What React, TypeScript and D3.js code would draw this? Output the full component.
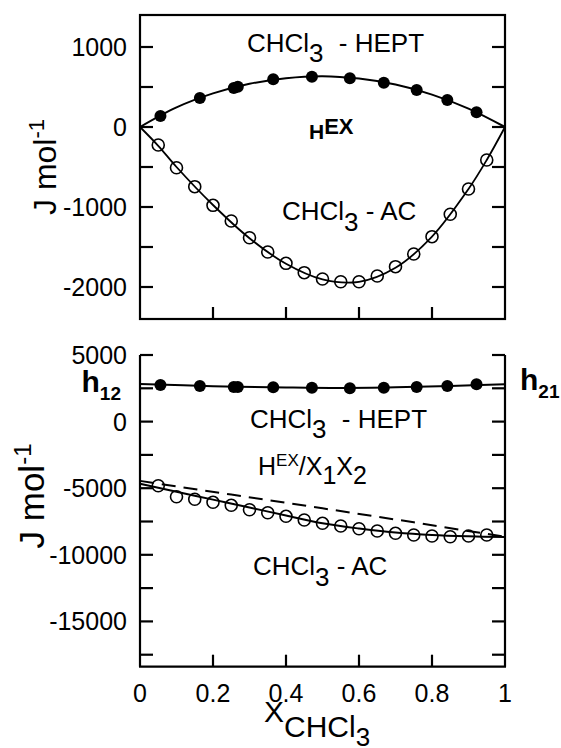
import React from "react";
import * as d3 from "d3";

// Excess enthalpy H^EX (J/mol) vs. chloroform mole fraction
const heptX = [0.056, 0.164, 0.257, 0.268, 0.365, 0.471, 0.575, 0.668, 0.758, 0.842, 0.922];
const heptHex = [138, 362, 487, 504, 596, 629, 609, 554, 462, 337, 184];
const acX = [0.05, 0.1, 0.15, 0.2, 0.25, 0.3, 0.35, 0.4, 0.45, 0.5, 0.55, 0.6, 0.65, 0.7, 0.75, 0.8, 0.85, 0.9, 0.95];
const acHex = [-225, -509, -746, -979, -1175, -1384, -1562, -1704, -1821, -1900, -1934, -1934, -1862, -1746, -1587, -1371, -1091, -775, -412];

// fitted H^EX curves
const heptFitX = [0, 0.1, 0.2, 0.3, 0.4, 0.5, 0.6, 0.7, 0.8, 0.9, 1];
const heptFitHex = [0, 245, 420, 540, 610, 635, 605, 530, 405, 230, 0];
const acFitX = [0, 0.05, 0.1, 0.2, 0.3, 0.4, 0.5, 0.6, 0.7, 0.8, 0.9, 0.95, 1];
const acFitHex = [0, -235, -500, -975, -1390, -1710, -1905, -1935, -1760, -1370, -775, -412, 0];

// reduced excess enthalpy H^EX/(x1 x2) (J/mol)
const heptRed = [2748, 2673, 2598, 2598, 2575, 2545, 2500, 2545, 2598, 2673, 2800];
const acRed = [-4812, -5638, -5833, -6059, -6284, -6614, -6839, -7110, -7387, -7635, -7838, -8041, -8213, -8386, -8514, -8589, -8641, -8589, -8514];
const heptRedFitX = [0, 0.2, 0.4, 0.55, 0.7, 0.85, 1];
const heptRedFit = [2823, 2660, 2560, 2520, 2570, 2670, 2810];
const acRedFitX = [0, 0.1, 0.2, 0.3, 0.4, 0.5, 0.6, 0.7, 0.8, 0.9, 1];
const acRedFit = [-4670, -5263, -5856, -6449, -7050, -7635, -8026, -8326, -8514, -8611, -8664];
const acRedDashX = [0, 0.25, 0.5, 0.75, 1];
const acRedDash = [-4450, -5480, -6510, -7560, -8650];

const xTicks = [0.2, 0.4, 0.6, 0.8];
const xTickLabels = [0, 0.2, 0.4, 0.6, 0.8, 1];
const topMinorTicks = [-2000, -1500, -1000, -500, 0, 500, 1000];
const topTickLabels = [-2000, -1000, 0, 1000];
const botMinorTicks = [-17500, -15000, -12500, -10000, -7500, -5000, -2500, 0, 2500, 5000];
const botTickLabels = [-15000, -10000, -5000, 0, 5000];

const FONT = "'Liberation Sans', Arial, Helvetica, sans-serif";

const X0 = 140;
const X1 = 505;
const x = d3.scaleLinear().domain([0, 1]).range([X0, X1]);
const yTop = d3.scaleLinear().domain([-2400, 1400]).range([319, 15]);
const yBot = d3.scaleLinear().domain([-18400, 5000]).range([666.7, 355]);

const zip = (xs: number[], ys: number[]) => xs.map((v, i) => [v, ys[i]] as [number, number]);

function lineFor(y: d3.ScaleLinear<number, number>) {
  return d3
    .line<[number, number]>()
    .x((d) => x(d[0]))
    .y((d) => y(d[1]))
    .curve(d3.curveCatmullRom.alpha(0.5));
}

const TICK = 13;
const SW = 2.2;

function YTicks({ y, ticks, labels }: { y: d3.ScaleLinear<number, number>; ticks: number[]; labels: number[] }) {
  return (
    <g>
      {ticks.map((t) => (
        <g key={t}>
          <line x1={X0} x2={X0 + TICK} y1={y(t)} y2={y(t)} stroke="#000" strokeWidth={SW} />
          <line x1={X1} x2={X1 - TICK} y1={y(t)} y2={y(t)} stroke="#000" strokeWidth={SW} />
        </g>
      ))}
      {labels.map((t) => (
        <text key={"l" + t} x={127} y={y(t)} dy="0.36em" textAnchor="end" fontSize={25}>
          {t}
        </text>
      ))}
    </g>
  );
}

function XTicks({ yb }: { yb: number }) {
  return (
    <g>
      {xTicks.map((t) => (
        <line key={t} x1={x(t)} x2={x(t)} y1={yb} y2={yb - 12} stroke="#000" strokeWidth={SW} />
      ))}
    </g>
  );
}

export default function App() {
  const topLine = lineFor(yTop);
  const botLine = lineFor(yBot);
  const botLinear = d3
    .line<[number, number]>()
    .x((d) => x(d[0]))
    .y((d) => yBot(d[1]));

  return (
    <svg width={561} height={748} style={{ position: "absolute", left: 0, top: 0 }} fontFamily={FONT}>
      <rect width={561} height={748} fill="#fff" />

      {/* upper panel: H^EX */}
      <rect x={X0} y={15} width={X1 - X0} height={319 - 15} fill="none" stroke="#000" strokeWidth={SW} />
      <YTicks y={yTop} ticks={topMinorTicks} labels={topTickLabels} />
      <XTicks yb={319} />
      <path d={topLine(zip(heptFitX, heptFitHex)) ?? ""} fill="none" stroke="#000" strokeWidth={2} />
      <path d={topLine(zip(acFitX, acFitHex)) ?? ""} fill="none" stroke="#000" strokeWidth={1.8} />
      {zip(heptX, heptHex).map((d, i) => (
        <circle key={"th" + i} cx={x(d[0])} cy={yTop(d[1])} r={6} fill="#000" />
      ))}
      {zip(acX, acHex).map((d, i) => (
        <circle key={"ta" + i} cx={x(d[0])} cy={yTop(d[1])} r={6} fill="none" stroke="#000" strokeWidth={1.6} />
      ))}
      <text x={247} y={52} fontSize={26}>
        CHCl<tspan dy={10}>3</tspan>
        <tspan dy={-10} dx={8}> - HEPT</tspan>
      </text>
      <text x={309} y={138.5} fontSize={21} fontWeight="bold">
        H<tspan dy={-5} fontSize={22}>EX</tspan>
      </text>
      <text x={282} y={220} fontSize={26}>
        CHCl<tspan dy={11}>3</tspan>
        <tspan dy={-11}> - AC</tspan>
      </text>
      <text transform="translate(56,167) rotate(-90)" textAnchor="middle" fontSize={32}>
        J mol<tspan dy={-12} fontSize={22}>-1</tspan>
      </text>

      {/* lower panel: H^EX / x1x2 */}
      <line x1={X0} x2={X0} y1={355} y2={666.7} stroke="#000" strokeWidth={SW} />
      <line x1={X1} x2={X1} y1={355} y2={666.7} stroke="#000" strokeWidth={SW} />
      <line x1={X0 - 1} x2={X1 + 1} y1={666.7} y2={666.7} stroke="#000" strokeWidth={SW} />
      <YTicks y={yBot} ticks={botMinorTicks} labels={botTickLabels} />
      <XTicks yb={666.7} />
      <path d={botLine(zip(heptRedFitX, heptRedFit)) ?? ""} fill="none" stroke="#000" strokeWidth={2} />
      <path d={botLine(zip(acRedFitX, acRedFit)) ?? ""} fill="none" stroke="#000" strokeWidth={2} />
      <path d={botLinear(zip(acRedDashX, acRedDash)) ?? ""} fill="none" stroke="#000" strokeWidth={2} strokeDasharray="14 8" />
      {zip(heptX, heptRed).map((d, i) => (
        <circle key={"bh" + i} cx={x(d[0])} cy={yBot(d[1])} r={6} fill="#000" />
      ))}
      {zip(acX, acRed).map((d, i) => (
        <circle key={"ba" + i} cx={x(d[0])} cy={yBot(d[1])} r={6} fill="none" stroke="#000" strokeWidth={1.6} />
      ))}
      {xTickLabels.map((t) => (
        <text key={"x" + t} x={x(t)} y={701.5} textAnchor="middle" fontSize={25}>
          {t}
        </text>
      ))}
      <text x={250} y={428.3} fontSize={26}>
        CHCl<tspan dy={10}>3</tspan>
        <tspan dy={-10} dx={8}> - HEPT</tspan>
      </text>
      <text x={258} y={475} fontSize={25}>
        H<tspan dy={-9} fontSize={17}>EX</tspan>
        <tspan dy={9}>/X</tspan>
        <tspan dy={9}>1</tspan>
        <tspan dy={-9}>X</tspan>
        <tspan dy={9}>2</tspan>
      </text>
      <text x={253} y={575} fontSize={26}>
        CHCl<tspan dy={11}>3</tspan>
        <tspan dy={-11}> - AC</tspan>
      </text>
      <text x={81.5} y={391.7} fontSize={30} fontWeight="bold">
        h<tspan dy={8} fontSize={19}>12</tspan>
      </text>
      <text x={520} y={390} fontSize={30} fontWeight="bold">
        h<tspan dy={8} fontSize={19}>21</tspan>
      </text>
      <text transform="translate(44,496) rotate(-90)" textAnchor="middle" fontSize={35}>
        J mol<tspan dy={-13} fontSize={24}>-1</tspan>
      </text>
      <text x={264} y={722} fontSize={30}>
        X<tspan dy={15} fontSize={30}>CHCl</tspan>
        <tspan dy={9} fontSize={26}>3</tspan>
      </text>
    </svg>
  );
}
